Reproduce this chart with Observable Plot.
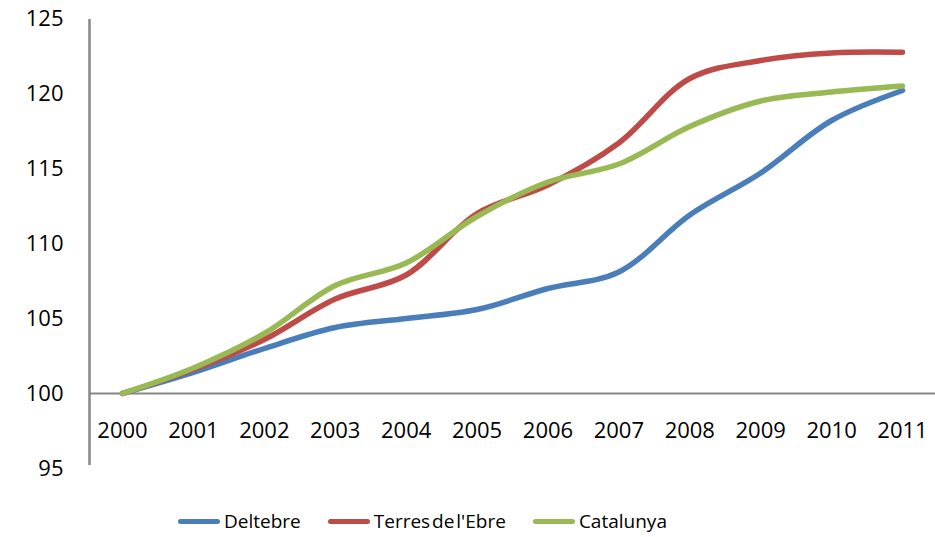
<!DOCTYPE html>
<html>
<head>
<meta charset="utf-8">
<script src="https://cdn.jsdelivr.net/npm/d3@7"></script>
<script src="https://cdn.jsdelivr.net/npm/@observablehq/plot@0.6"></script>
<style>
  html, body { margin: 0; padding: 0; background: #fff; }
  #chart { width: 935px; height: 537px; position: relative; font-family: "Open Sans", sans-serif; }
  .legend { display: flex; justify-content: flex-start; align-items: center; position: absolute; top: 508px; left: 178px; font-size: 19px; color: #000; word-spacing: -3px; }
  .legend .item { display: flex; align-items: center; margin-right: 27px; }
  .legend .sw { width: 42px; height: 5px; border-radius: 3px; margin-right: 4px; }
</style>
</head>
<body>
<div id="chart"></div>
<script>
const years = [2000, 2001, 2002, 2003, 2004, 2005, 2006, 2007, 2008, 2009, 2010, 2011];
const deltebre = [100, 101.4, 103.0, 104.4, 105.0, 105.6, 107.0, 108.1, 111.9, 114.7, 118.2, 120.2];
const terresEbre = [100, 101.6, 103.6, 106.3, 107.9, 112.0, 113.9, 116.7, 121.0, 122.2, 122.7, 122.75];
const catalunya = [100, 101.7, 104.0, 107.2, 108.7, 111.8, 114.1, 115.3, 117.8, 119.5, 120.1, 120.5];
const seriesNames = ["Deltebre", "Terres de l'Ebre", "Catalunya"];
const seriesColors = ["#4a7ebb", "#be4b48", "#98b954"];
const yTicks = [95, 100, 105, 110, 115, 120, 125];

const seriesValues = [deltebre, terresEbre, catalunya];
const data = [];
seriesNames.forEach((name, i) => {
  years.forEach((yr, j) => data.push({series: name, year: yr, value: seriesValues[i][j]}));
});

const plot = Plot.plot({
  width: 935,
  height: 500,
  marginLeft: 89,
  marginRight: 0,
  marginTop: 18,
  marginBottom: 32,
  style: {fontFamily: "'Open Sans', sans-serif", fontSize: "22px", color: "#000", background: "#fff"},
  x: {domain: [1999.535, 2011.465], axis: null},
  y: {domain: [95, 125], ticks: yTicks, tickSize: 0, tickPadding: 26, label: null, tickFormat: d3.format("d")},
  color: {domain: seriesNames, range: seriesColors},
  marks: [
    Plot.axisY(yTicks, {tickSize: 0, tickPadding: 26, label: null, fontSize: 22, fill: "#000"}),
    Plot.ruleX([1999.535], {stroke: "#868686", strokeWidth: 2.5, y1: 95, y2: 125, insetBottom: -1, insetTop: -3}),
    Plot.ruleY([100], {stroke: "#868686", strokeWidth: 2}),
    Plot.text(years, {x: d => d, y: () => 97.5, text: d => String(d), fontSize: 22, fill: "#000"}),
    Plot.line(data, {x: "year", y: "value", z: "series", stroke: "series", strokeWidth: 5.5, curve: "catmull-rom", strokeLinecap: "round"})
  ]
});

const chart = document.getElementById("chart");
chart.appendChild(plot);

const legend = document.createElement("div");
legend.className = "legend";
seriesNames.forEach((name, i) => {
  const item = document.createElement("div");
  item.className = "item";
  const sw = document.createElement("span");
  sw.className = "sw";
  sw.style.background = seriesColors[i];
  const label = document.createElement("span");
  label.textContent = name;
  item.appendChild(sw);
  item.appendChild(label);
  legend.appendChild(item);
});
chart.appendChild(legend);
</script>
</body>
</html>
